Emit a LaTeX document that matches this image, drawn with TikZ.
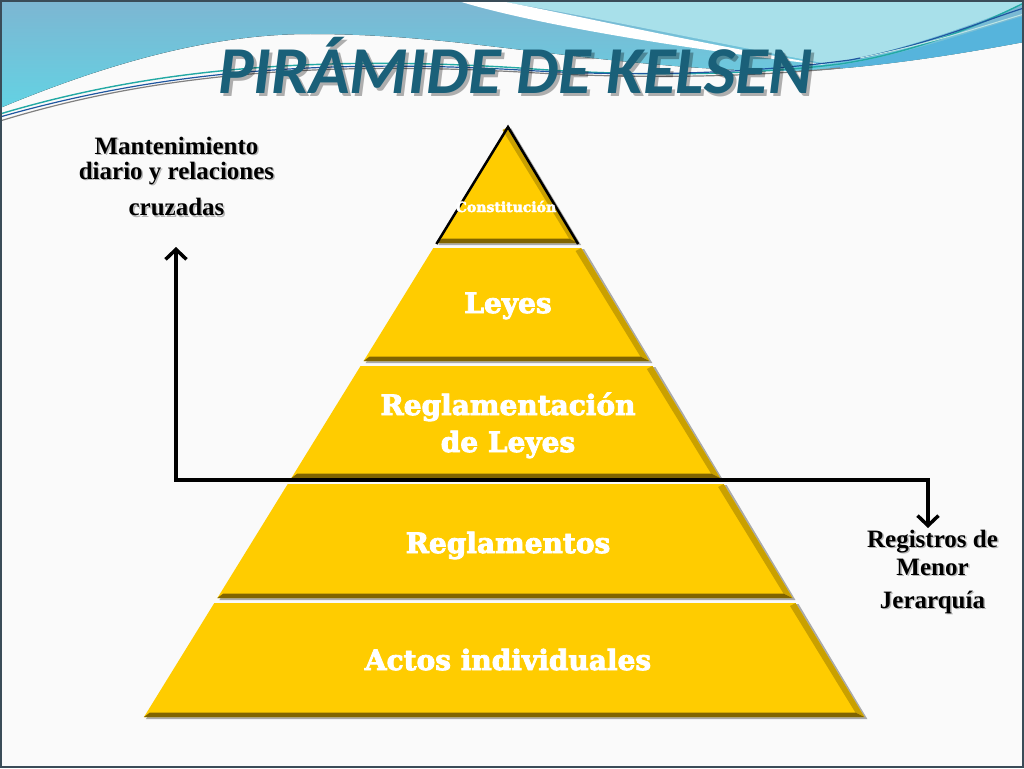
\documentclass[tikz,border=0pt]{standalone}
\usepackage{fontspec}
\setmainfont{Liberation Serif}
\newfontfamily\titlefont{Carlito}
\newfontfamily\pyrfont[FakeBold=3]{DejaVu Serif}
\usetikzlibrary{arrows.meta}
\definecolor{gold}{HTML}{FFCC00}
\definecolor{goldR}{HTML}{C9A000}
\definecolor{goldB}{HTML}{806400}
\definecolor{shadowgray}{HTML}{A9A9A9}
\definecolor{titleblue}{HTML}{1A6079}
\definecolor{bordercol}{HTML}{3A4C58}
\definecolor{topblue}{HTML}{7DB6D2}
\definecolor{lowcyan}{HTML}{63D2E3}
\definecolor{lightcyan}{HTML}{A8E0EA}
\definecolor{bandblue}{HTML}{56B4DC}
\definecolor{lineteal}{HTML}{22A9A4}
\definecolor{linedark}{HTML}{1F56A0}
\newcommand\pyrlevel[2]{%
  \pgfmathsetmacro\xlt{508-0.617*(#1-127)}%
  \pgfmathsetmacro\xrt{508+0.604*(#1-127)}%
  \pgfmathsetmacro\xlb{508-0.617*(#2-127)}%
  \pgfmathsetmacro\xrb{508+0.604*(#2-127)}%
  \fill[shadowgray] (\xlt+3,#1+1) -- (\xrt+3,#1+1) -- (\xrb+3,#2+2) -- (\xlb+2,#2+2) -- cycle;
  \fill[gold] (\xlt,#1) -- (\xrt,#1) -- (\xrb,#2) -- (\xlb,#2) -- cycle;
  \fill[goldR] (\xrt,#1) -- (\xrb,#2) -- (\xrb-9,#2-4.5) -- (\xrt-5.5,#1+3) -- cycle;
  \fill[goldB] (\xlb,#2) -- (\xrb,#2) -- (\xrb-9,#2-4.5) -- (\xlb+6,#2-4.5) -- cycle;
}
\begin{document}
\begin{tikzpicture}[x=1pt,y=-1pt,
  pyrtext/.style={text=white, inner sep=0pt, anchor=base,
    font=\pyrfont\bfseries\fontsize{28}{28}\selectfont},
  sidetext/.style={text=black, inner sep=0pt, anchor=base,
    font=\bfseries\fontsize{25}{25}\selectfont},
  sideshadow/.style={sidetext, text=black!45, opacity=0.6},
  conn/.style={line width=3.5pt, line join=miter,
    {Straight Barb[length=10pt,width=21pt]}-{Straight Barb[length=10pt,width=21pt]}}
]
\useasboundingbox (0,0) rectangle (1024,768);
\fill[white!98!black] (0,0) rectangle (1024,768);

% top waves
\fill[top color=topblue, bottom color=lowcyan]
  (0,0) -- (1024,0) -- (1024,42) .. controls (970,52) and (900,64) .. (822,70)
  .. controls (740,74) and (640,64) .. (540,52)
  .. controls (470,44) and (400,34) .. (310,34)
  .. controls (220,34) and (120,58) .. (0,108) -- cycle;
\fill[lightcyan] (490,0) .. controls (560,10) and (690,38) .. (828,64)
  .. controls (900,52) and (980,22) .. (1024,4) -- (1024,0) -- cycle;
\fill[bandblue] (830,67) .. controls (910,54) and (975,30) .. (1024,16)
  -- (1024,42) .. controls (970,52) and (900,64) .. (830,69) -- cycle;
\fill[white] (455,0) .. controls (530,24) and (690,50) .. (832,66)
  .. controls (690,42) and (570,14) .. (495,0) -- cycle;
\draw[gray, line width=1.2pt] (0,121) .. controls (140,78) and (300,60) .. (520,72)
  .. controls (650,80) and (760,76) .. (840,68);
\draw[lineteal, line width=1.4pt] (0,114) .. controls (140,72) and (300,54) .. (520,68)
  .. controls (650,78) and (760,74) .. (840,64) .. controls (920,52) and (985,22) .. (1024,3);
\draw[linedark, line width=1.2pt] (0,117) .. controls (150,74) and (310,58) .. (520,70)
  .. controls (650,78) and (760,72) .. (850,60) .. controls (925,46) and (985,20) .. (1024,8);
\draw[white!70!lineteal, line width=1pt] (860,58) .. controls (930,44) and (990,24) .. (1024,14);

% title (with its drop shadow)
\node[inner sep=0pt, anchor=base, text=black, opacity=0.3,
  font=\titlefont\bfseries\itshape\fontsize{67}{67}\selectfont] (titleshadow) at (518,96) {PIRÁMIDE DE KELSEN};
\node[inner sep=0pt, anchor=base, text=titleblue,
  font=\titlefont\bfseries\itshape\fontsize{67}{67}\selectfont] (title) at (515,93) {PIRÁMIDE DE KELSEN};

% pyramid
\pyrlevel{603}{717}
\pyrlevel{484}{598}
\pyrlevel{366}{478}
\pyrlevel{248}{361}
\pyrlevel{127}{243}
\draw[black, line width=2.5pt, line join=miter] (436.4,244) -- (508,127) -- (578.1,244);

\node[pyrtext, font=\pyrfont\bfseries\fontsize{14}{14}\selectfont] (t1) at (506,212) {Constitución};
\node[pyrtext] (t2) at (508,313) {Leyes};
\node[pyrtext] (t3a) at (508,415) {Reglamentación};
\node[pyrtext] (t3b) at (508,452) {de Leyes};
\node[pyrtext] (t4) at (508,553) {Reglamentos};
\node[pyrtext] (t5) at (508,670) {Actos individuales};

% side labels
\node[sideshadow] at (178,155.5) {Mantenimiento};
\node[sideshadow] at (178,180.5) {diario y relaciones};
\node[sideshadow] at (178,217) {cruzadas};
\node[sidetext] (l1) at (176.5,154) {Mantenimiento};
\node[sidetext] (l2) at (176.5,179) {diario y relaciones};
\node[sidetext] (l3) at (176.5,215.5) {cruzadas};

\node[sideshadow] at (934,548.5) {Registros de};
\node[sideshadow] at (934,576.5) {Menor};
\node[sideshadow] at (934,609.5) {Jerarquía};
\node[sidetext] (r1) at (932.5,547) {Registros de};
\node[sidetext] (r2) at (932.5,575) {Menor};
\node[sidetext] (r3) at (932.5,608) {Jerarquía};

% connector
\coordinate (aTop) at (176,247);
\coordinate (aC1) at (176,480);
\coordinate (aC2) at (928,480);
\coordinate (aBot) at (928,528);
\draw[conn] (aTop) -- (aC1) -- (aC2) -- (aBot);

% border
\draw[bordercol, line width=2pt] (1,1) rectangle (1023,767);
\end{tikzpicture}
\end{document}
